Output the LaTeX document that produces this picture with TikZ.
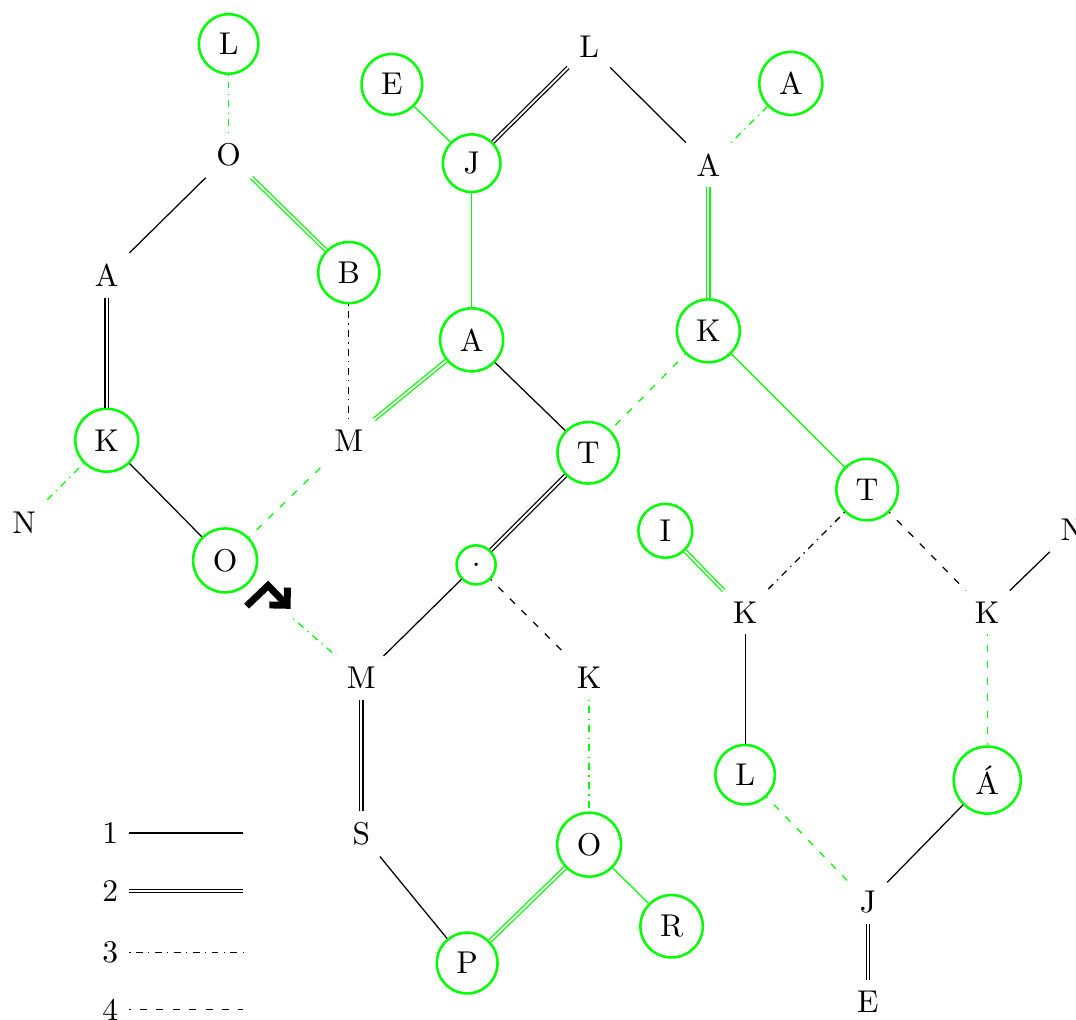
\documentclass[tikz,border=0pt]{standalone}
\usepackage{tikz}
\usetikzlibrary{arrows.meta}

\begin{document}
\begin{tikzpicture}[
    atom/.style={circle, draw=green, thick, inner sep=3.4pt},
    bond1/.style={solid},
    bond2/.style={double},
    bond3/.style={dash pattern=on 0.4pt off 1.7pt on 2.2pt off 1.7pt},
    bond4/.style={dash pattern=on 2.2pt off 3pt, dash phase=1.8pt}]
        \useasboundingbox (0,0) rectangle (12,-11.375);
        % left ring
        \node[atom] (Lt) at (2.55,-0.49) {L};
        \node (Ot) at (2.55,-1.73) {O};
        \node (Al) at (1.19,-3.07) {A};
        \node[atom] (Bg) at (3.89,-3.04) {B};
        \node[atom] (Kl) at (1.19,-4.91) {K};
        \node (Mu) at (3.89,-4.91) {M};
        \node (Nl) at (0.27,-5.83) {N};
        \node[atom] (Ol) at (2.51,-6.25) {O};
        % middle top
        \node[atom] (Eg) at (4.37,-0.94) {E};
        \node[atom] (Jg) at (5.26,-1.82) {J};
        \node (Lm) at (6.57,-0.52) {L};
        \node (Am) at (7.90,-1.84) {A};
        \node[atom] (Ag) at (8.82,-0.93) {A};
        \node[atom] (Ac) at (5.26,-3.79) {A};
        \node[atom] (Kc) at (7.90,-3.69) {K};
        \node[atom] (Tc) at (6.56,-5.05) {T};
        \node[atom] (dt) at (5.31,-6.30) {.};
        % right ring
        \node[atom] (Tr) at (9.67,-5.46) {T};
        \node[atom] (Ig) at (7.42,-5.92) {I};
        \node (Kr) at (8.31,-6.83) {K};
        \node (Kx) at (11.01,-6.83) {K};
        \node (Nr) at (11.96,-5.91) {N};
        \node[atom] (Lr) at (8.31,-8.64) {L};
        \node[atom] (Aa) at (11.01,-8.70) {\'A};
        \node (Jr) at (9.68,-10.06) {J};
        \node (Er) at (9.68,-11.17) {E};
        % bottom ring
        \node (Md) at (4.03,-7.56) {M};
        \node (Kd) at (6.57,-7.56) {K};
        \node (Sd) at (4.03,-9.30) {S};
        \node[atom] (Od) at (6.57,-9.42) {O};
        \node[atom] (Rd) at (7.49,-10.33) {R};
        \node[atom] (Pd) at (5.21,-10.74) {P};
        \coordinate (arr) at (3.27,-6.90);
        % bonds
        \draw[bond3, green] (Lt) -- (Ot);
        \draw[bond1] (Ot) -- (Al);
        \draw[bond2, green] (Ot) -- (Bg);
        \draw[bond2] (Al) -- (Kl);
        \draw[bond3] (Bg) -- (Mu);
        \draw[bond3, green] (Kl) -- (Nl);
        \draw[bond1] (Kl) -- (Ol);
        \draw[bond4, green] (Ol) -- (Mu);
        \draw[bond2, green] (Mu) -- (Ac);
        \draw[bond1, green] (Eg) -- (Jg);
        \draw[bond2] (Jg) -- (Lm);
        \draw[bond1] (Lm) -- (Am);
        \draw[bond3, green] (Am) -- (Ag);
        \draw[bond1, green] (Jg) -- (Ac);
        \draw[bond2, green] (Am) -- (Kc);
        \draw[bond1] (Ac) -- (Tc);
        \draw[bond4, green] (Kc) -- (Tc);
        \draw[bond1, green] (Kc) -- (Tr);
        \draw[bond2] (Tc) -- (dt);
        \draw[bond1] (dt) -- (Md);
        \draw[bond4] (dt) -- (Kd);
        \draw[bond3, green] (arr) -- (Md);
        \draw[bond2] (Md) -- (Sd);
        \draw[bond3, green] (Kd) -- (Od);
        \draw[bond1] (Sd) -- (Pd);
        \draw[bond2, green] (Pd) -- (Od);
        \draw[bond1, green] (Od) -- (Rd);
        \draw[bond3] (Tr) -- (Kr);
        \draw[bond4] (Tr) -- (Kx);
        \draw[bond2, green] (Ig) -- (Kr);
        \draw[bond1] (Kx) -- (Nr);
        \draw[bond1] (Kr) -- (Lr);
        \draw[bond4, green] (Kx) -- (Aa);
        \draw[bond4, green] (Lr) -- (Jr);
        \draw[bond1] (Aa) -- (Jr);
        \draw[bond2] (Jr) -- (Er);
        % bent arrow
        \draw[line width=2.2pt, -{Straight Barb[length=1.4mm, width=2.8mm]}] (2.75,-6.76) -- (2.99,-6.53) -- (3.24,-6.79);
        % key
        \foreach \i/\y/\s in {1/-9.29/bond1, 2/-9.94/bond2, 3/-10.62/bond3, 4/-11.26/bond4}{
            \node (key\i) at (1.23,\y) {\i};
            \coordinate (keyend\i) at (2.71,\y);
            \draw[\s] (key\i) -- (keyend\i);
        }
    \end{tikzpicture}
\end{document}
